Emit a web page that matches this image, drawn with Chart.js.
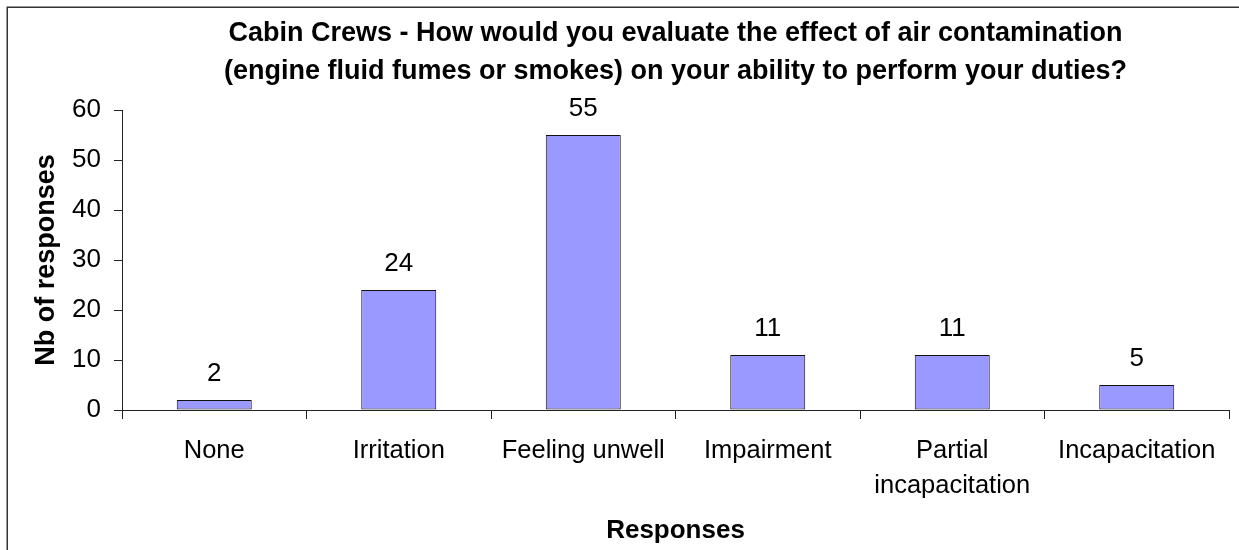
<!DOCTYPE html>
<html>
<head>
<meta charset="utf-8">
<script src="https://cdn.jsdelivr.net/npm/chart.js@4.4.1/dist/chart.umd.min.js"></script>
<style>
  html, body { margin: 0; padding: 0; background: #ffffff; }
  #wrap { width: 1239px; height: 550px; position: relative; }
</style>
</head>
<body>
<div id="wrap"><canvas id="chart" width="1239" height="550"></canvas></div>
<script>
// Survey answers: number of cabin crew responses per effect category
const categories = ['None', 'Irritation', 'Feeling unwell', 'Impairment', ['Partial', 'incapacitation'], 'Incapacitation'];
const responses = [2, 24, 55, 11, 11, 5];
const yTicks = [0, 10, 20, 30, 40, 50, 60];

const titleLines = [
  'Cabin Crews - How would you evaluate the effect of air contamination',
  '(engine fluid fumes or smokes) on your ability to perform your duties?'
];

const FONT = "'Liberation Sans', Arial, Helvetica, sans-serif";

// Outer frame of the chart object
const framePlugin = {
  id: 'frame',
  beforeDraw(chart) {
    const ctx = chart.ctx;
    ctx.save();
    ctx.fillStyle = '#ffffff';
    ctx.fillRect(0, 0, chart.width, chart.height);
    ctx.strokeStyle = '#333333';
    ctx.lineWidth = 1.5;
    ctx.strokeRect(7.25, 7.25, chart.width + 20, chart.height + 20);
    ctx.restore();
  }
};

// Value written above each bar
const valueLabels = {
  id: 'valueLabels',
  afterDatasetsDraw(chart) {
    const ctx = chart.ctx;
    const meta = chart.getDatasetMeta(0);
    ctx.save();
    ctx.font = '26px ' + FONT;
    ctx.fillStyle = '#000000';
    ctx.textAlign = 'center';
    ctx.textBaseline = 'alphabetic';
    meta.data.forEach((bar, i) => {
      ctx.fillText(String(chart.data.datasets[0].data[i]), bar.x, bar.y - 19);
    });
    ctx.restore();
  }
};

new Chart(document.getElementById('chart'), {
  type: 'bar',
  data: {
    labels: categories,
    datasets: [{
      data: responses,
      backgroundColor: '#9999ff',
      borderColor: '#111111',
      borderWidth: 1,
      borderSkipped: false,
      categoryPercentage: 1.0,
      barPercentage: 0.4065
    }]
  },
  options: {
    responsive: false,
    animation: false,
    devicePixelRatio: 1,
    layout: { padding: { left: 0, right: 10, top: 0, bottom: 0 } },
    plugins: {
      legend: { display: false },
      tooltip: { enabled: false },
      title: {
        display: true,
        fullSize: false,
        text: titleLines,
        color: '#000000',
        font: { family: FONT, size: 27, weight: 'bold', lineHeight: '38px' },
        padding: { top: 15, bottom: 19 }
      }
    },
    scales: {
      x: {
        offset: true,
        border: { display: true, color: '#222222', width: 1 },
        grid: {
          offset: true,
          drawOnChartArea: false,
          drawTicks: true,
          tickLength: 9,
          color: '#222222'
        },
        ticks: {
          color: '#000000',
          font: { family: FONT, size: 25.5, lineHeight: '35px' },
          padding: 14,
          maxRotation: 0,
          autoSkip: false
        },
        title: {
          display: true,
          text: 'Responses',
          color: '#000000',
          font: { family: FONT, size: 26, weight: 'bold' },
          padding: { top: 0, bottom: 4 }
        },
        afterFit(scale) { scale.height = 140; }
      },
      y: {
        min: 0,
        max: 60,
        border: { display: true, color: '#222222', width: 1 },
        grid: {
          drawOnChartArea: false,
          drawTicks: true,
          tickLength: 8,
          color: '#222222'
        },
        afterBuildTicks(scale) {
          scale.ticks = yTicks.map(v => ({ value: v }));
        },
        ticks: {
          color: '#000000',
          font: { family: FONT, size: 26 },
          padding: 13
        },
        title: {
          display: true,
          text: 'Nb of responses',
          color: '#000000',
          font: { family: FONT, size: 27, weight: 'bold' },
          padding: { top: 30, bottom: 0 }
        },
        afterFit(scale) { scale.width = 122; }
      }
    }
  },
  plugins: [framePlugin, valueLabels]
});
</script>
</body>
</html>
